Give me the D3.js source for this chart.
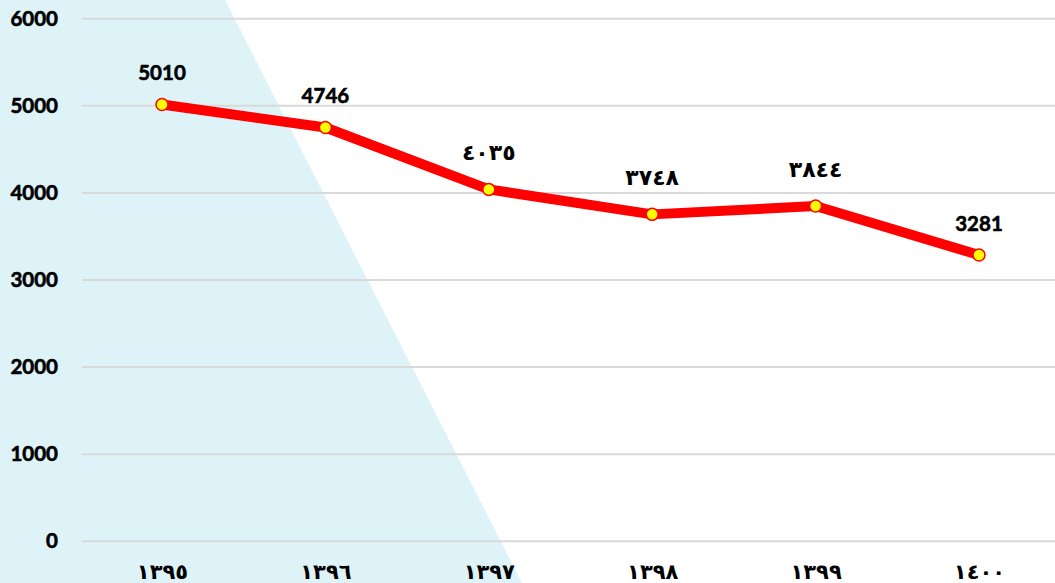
<!DOCTYPE html>
<html><head><meta charset="utf-8">
<script src="https://cdn.jsdelivr.net/npm/d3@7"></script>
<style>body{margin:0;background:#fff}svg{display:block}</style>
</head><body><svg id="c" width="1055" height="583"></svg>
<script>
const categories = ["١٣٩٥","١٣٩٦","١٣٩٧","١٣٩٨","١٣٩٩","١٤٠٠"];
const values = [5010, 4746, 4035, 3748, 3844, 3281];
const valueLabels = ["5010","4746","٤٠٣٥","٣٧٤٨","٣٨٤٤","3281"];
const yTicks = [0,1000,2000,3000,4000,5000,6000];

const svg = d3.select("#c");
const W = 1055, H = 583;
const x = d3.scalePoint().domain(categories).range([162, 979]);
const y = d3.scaleLinear().domain([0, 6000]).range([540.7, 18.3]);

// background decoration
svg.append("path").attr("d", `M0,0 L225,0 L522,${H} L0,${H} Z`).attr("fill", "#ddf3f8");

// grid
const yAxis = d3.axisLeft(y).tickValues(yTicks).tickSize(0).tickPadding(0).tickFormat(d3.format("d"));
const gy = svg.append("g").attr("transform", "translate(82,0)").call(yAxis);
gy.select(".domain").remove();
gy.selectAll(".tick line").attr("x2", W - 82).attr("stroke", "#d9d9d9").attr("stroke-width", 2);
gy.selectAll(".tick text").attr("x", -24).attr("dy", "0.35em")
  .attr("font-family", "Lato, sans-serif").attr("font-weight", "bold").attr("font-size", 20.5)
  .attr("fill", "#000").attr("stroke", "#000").attr("stroke-width", 0.6);

// x axis labels
const xAxis = d3.axisBottom(x).tickSize(0).tickPadding(0);
const gx = svg.append("g").attr("transform", "translate(0,560)").call(xAxis);
gx.select(".domain").remove();
gx.selectAll(".tick text").attr("y", 19).attr("dy", 0)
  .attr("font-family", "'DejaVu Sans', sans-serif").attr("font-weight", "bold").attr("font-size", 21).attr("fill", "#000");

// line
const data = categories.map((c, i) => ({c, v: values[i], l: valueLabels[i]}));
svg.append("path").datum(data)
  .attr("d", d3.line().x(d => x(d.c)).y(d => y(d.v)))
  .attr("fill", "none").attr("stroke", "#ff0000").attr("stroke-width", 10).attr("stroke-linejoin", "round");

svg.selectAll("circle.pt").data(data).join("circle").attr("class", "pt")
  .attr("cx", d => x(d.c)).attr("cy", d => y(d.v)).attr("r", 6)
  .attr("fill", "#ffff00").attr("stroke", "#ff0000").attr("stroke-width", 1.5);

const latin = d => /[0-9]/.test(d.l);
svg.selectAll("text.lbl").data(data).join("text").attr("class", "lbl")
  .attr("x", d => x(d.c)).attr("y", d => y(d.v) - (latin(d) ? 24 : 29))
  .attr("text-anchor", "middle")
  .attr("font-family", d => latin(d) ? "Lato, sans-serif" : "'DejaVu Sans', sans-serif")
  .attr("font-weight", "bold").attr("font-size", d => latin(d) ? 20.5 : 22).attr("fill", "#000")
  .attr("stroke", d => latin(d) ? "#000" : "none").attr("stroke-width", 0.6)
  .text(d => d.l);
</script></body></html>
